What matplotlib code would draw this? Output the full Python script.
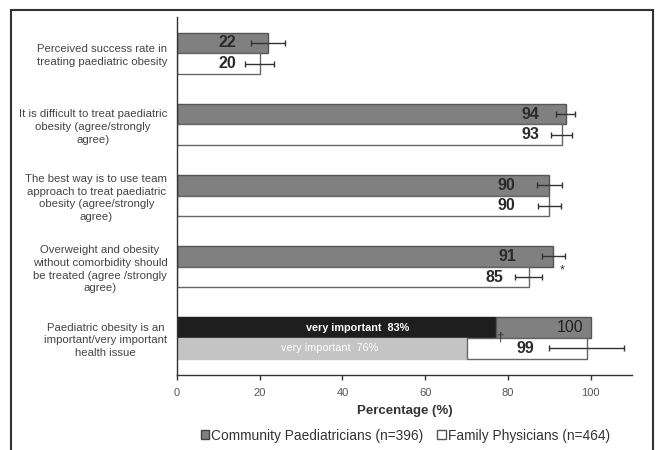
import numpy as np
import matplotlib
matplotlib.use("Agg")
import matplotlib.pyplot as plt
from matplotlib.patches import Rectangle, Patch

plt.rcParams['font.family'] = ['Liberation Sans', 'DejaVu Sans']

## data
categories = [
    "Perceived success rate in\ntreating paediatric obesity",
    "It is difficult to treat paediatric\nobesity (agree/strongly\nagree)",
    "The best way is to use team\napproach to treat paediatric\nobesity (agree/strongly\nagree)",
    "Overweight and obesity\nwithout comorbidity should\nbe treated (agree /strongly\nagree)",
    "Paediatric obesity is an\nimportant/very important\nhealth issue",
]
cp_values = [22, 94, 90, 91, 100]
fp_values = [20, 93, 90, 85, 99]
cp_err = [4.1, 2.3, 3.0, 2.8, 0]
fp_err = [3.5, 2.5, 2.8, 3.3, 9]
# last group: "very important" share, as drawn
vi_cp = 77
vi_fp = 70
vi_cp_label = "very important  83%"
vi_fp_label = "very important  76%"
cp_name = "Community Paediatricians (n=396)"
fp_name = "Family Physicians (n=464)"

# label placement (right edge, data units)
cp_label_x = [14.4, 87.7, 81.7, 82.1, 98.3]
fp_label_x = [14.4, 87.7, 81.7, 78.9, 86.3]

gray = "#808080"
dark = "#333333"

fig = plt.figure(figsize=(6.58, 4.5), dpi=100, facecolor="white")
ax = fig.add_axes([0.269, 0.1667, 0.6915, 0.7956])

n = len(categories)
y = np.arange(n)
h = 0.29
y_cp = y - h / 2
y_fp = y + h / 2

# regular bars (all but last group)
ax.barh(y_cp[:-1], cp_values[:-1], height=h, color=gray, edgecolor="#555555", linewidth=1)
ax.barh(y_fp[:-1], fp_values[:-1], height=h, color="white", edgecolor="#666666", linewidth=1)

# last group stacked
ax.barh(y_cp[-1], vi_cp, height=h, color="#1e1e1e", edgecolor="#1e1e1e", linewidth=1)
ax.barh(y_cp[-1], cp_values[-1] - vi_cp, left=vi_cp, height=h, color=gray, edgecolor="#555555", linewidth=1)
ax.barh(y_fp[-1], vi_fp, height=h, color="#c4c4c4", edgecolor="#c4c4c4", linewidth=1)
ax.barh(y_fp[-1], fp_values[-1] - vi_fp, left=vi_fp, height=h, color="white", edgecolor="#666666", linewidth=1)

# error bars
ax.errorbar(cp_values[:-1], y_cp[:-1], xerr=cp_err[:-1], fmt="none", ecolor=dark, elinewidth=1, capsize=2.2)
ax.errorbar(fp_values, y_fp, xerr=fp_err, fmt="none", ecolor=dark, elinewidth=1, capsize=2.2)

for i in range(n):
    if i < n - 1:
        ax.text(cp_label_x[i], y_cp[i], str(cp_values[i]), ha="right", va="center",
                fontsize=11.5, fontweight="bold", color="#2a2a2a")
    else:
        ax.text(cp_label_x[i], y_cp[i], str(cp_values[i]), ha="right", va="center",
                fontsize=11.5, color="#222222")
    ax.text(fp_label_x[i], y_fp[i], str(fp_values[i]), ha="right", va="center",
            fontsize=11.5, fontweight="bold", color="#2a2a2a")

ax.text(43.7, y_cp[-1], vi_cp_label, ha="center", va="center", fontsize=7.8, color="white", fontweight="bold")
ax.text(36.8, y_fp[-1], vi_fp_label, ha="center", va="center", fontsize=7.8, color="white")
ax.text(78, y[-1] - 0.01, "\u2020", ha="center", va="center", fontsize=9.5, color=dark)
ax.text(93, y_fp[3] - 0.1, "*", ha="center", va="center", fontsize=9, color=dark)

ax.set_xlim(0, 110)
ax.set_ylim(n - 1 + 0.52, -0.51)
ax.set_xticks([0, 20, 40, 60, 80, 100])
ax.set_yticks(y)
ax.set_yticklabels(categories, fontsize=8.2, color="#444444")
for lab in ax.get_yticklabels():
    lab.set_multialignment("center")
    lab.set_linespacing(1.35)
ax.tick_params(axis="y", length=0, pad=7)
ax.tick_params(axis="x", direction="out", length=3.5, width=1, colors="#333333", labelsize=8,
               labelcolor="#555555", pad=6)
ax.set_xlabel("Percentage (%)", fontsize=9.5, fontweight="bold", color="#333333", labelpad=5)

for s in ["top", "right"]:
    ax.spines[s].set_visible(False)
for s in ["left", "bottom"]:
    ax.spines[s].set_color("#333333")
    ax.spines[s].set_linewidth(1)

handles = [Patch(facecolor=gray, edgecolor="#444444"), Patch(facecolor="white", edgecolor="#555555")]
fig.legend(handles, [cp_name, fp_name], loc="center", bbox_to_anchor=(0.616, 0.032), ncol=2,
           frameon=False, fontsize=9.9, handlelength=0.6, handleheight=0.6, handletextpad=0.15,
           columnspacing=1.0, labelcolor="#333333")

# outer frame
fig.patches.append(Rectangle((11 / 658, -0.1), 642 / 658, 1.1 - 10 / 450, transform=fig.transFigure,
                             fill=False, edgecolor="#333333", linewidth=1.5))

fig.savefig("out.png", dpi=100, facecolor="white")
